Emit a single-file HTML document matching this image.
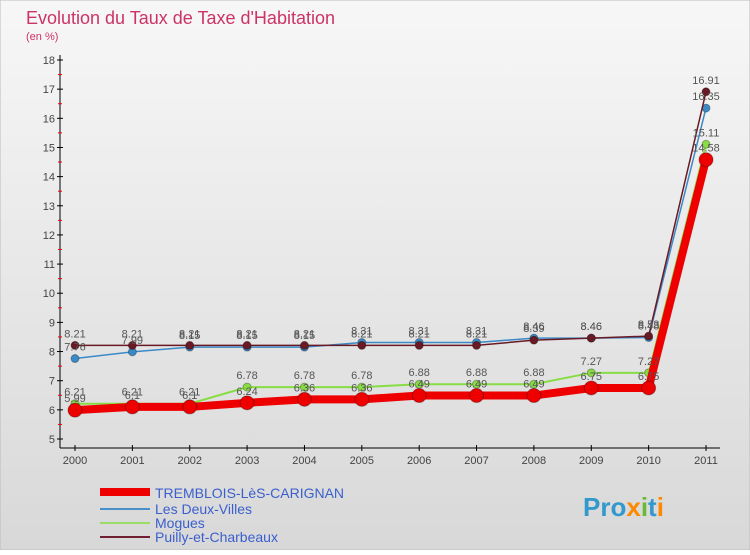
<!DOCTYPE html>
<html><head><meta charset="utf-8"><style>
body{margin:0;width:750px;height:550px;overflow:hidden;font-family:"Liberation Sans",sans-serif}
</style></head><body>
<svg width="750" height="550" xmlns="http://www.w3.org/2000/svg">
<defs><linearGradient id="bg" x1="0" y1="0" x2="0" y2="1"><stop offset="0" stop-color="#f7f7f7"/><stop offset="1" stop-color="#d8d8d8"/></linearGradient></defs>
<rect x="0" y="0" width="750" height="550" fill="url(#bg)" stroke="#bbb"/>
<text x="26" y="24" font-size="18" fill="#cc3366">Evolution du Taux de Taxe d'Habitation</text>
<text x="26" y="40" font-size="11" fill="#cc3366">(en %)</text>
<g id="axes"></g><g id="series"></g><g id="labels"></g>
<g>
<line x1="100" y1="492" x2="150" y2="492" stroke="#ee0000" stroke-width="8"/>
<text x="155" y="498" font-size="14" fill="#3a5fcd">TREMBLOIS-LèS-CARIGNAN</text>
<line x1="100" y1="509" x2="150" y2="509" stroke="#4a90c8" stroke-width="2"/>
<text x="155" y="514" font-size="14" fill="#3a5fcd">Les Deux-Villes</text>
<line x1="100" y1="523" x2="150" y2="523" stroke="#99dd66" stroke-width="2"/>
<text x="155" y="528" font-size="14" fill="#3a5fcd">Mogues</text>
<line x1="100" y1="537" x2="150" y2="537" stroke="#702030" stroke-width="2"/>
<text x="155" y="542" font-size="14" fill="#3a5fcd">Puilly-et-Charbeaux</text>
</g>
<text x="583" y="516" font-size="26" font-weight="bold" fill="#3399cc"><tspan fill="#3399cc">Pro</tspan><tspan fill="#ff8800">x</tspan><tspan fill="#66bb33">i</tspan><tspan fill="#3399cc">t</tspan><tspan fill="#ff8800">i</tspan></text>
</svg>
<script>
const years=["2000","2001","2002","2003","2004","2005","2006","2007","2008","2009","2010","2011"];
const yTicks=[5,6,7,8,9,10,11,12,13,14,15,16,17,18];
const tremblois=[5.99,6.1,6.1,6.24,6.36,6.36,6.49,6.49,6.49,6.75,6.75,14.58];
const deuxVilles=[7.76,7.99,8.15,8.15,8.15,8.31,8.31,8.31,8.46,8.46,8.48,16.35];
const mogues=[6.21,6.21,6.21,6.78,6.78,6.78,6.88,6.88,6.88,7.27,7.27,15.11];
const pouilly=[8.21,8.21,8.21,8.21,8.21,8.21,8.21,8.21,8.39,8.46,8.53,16.91];
const NS="http://www.w3.org/2000/svg";
const X=i=>75+i*(631/11), Y=v=>439-(v-5)*(379/13);
function mk(t,a,p){const e=document.createElementNS(NS,t);for(const k in a)e.setAttribute(k,a[k]);p.appendChild(e);return e;}
const ax=document.getElementById('axes'),se=document.getElementById('series'),lb=document.getElementById('labels');
let l=mk('line',{x1:60,y1:55,x2:60,y2:448,stroke:'#000'},ax);


l=mk('line',{x1:60,y1:448,x2:720,y2:448,stroke:'#000'},ax);


yTicks.forEach(v=>{
 mk('line',{x1:57,y1:Y(v),x2:63,y2:Y(v),stroke:'#000'},ax);
 if(v<18)mk('line',{x1:58,y1:Y(v+0.5),x2:62,y2:Y(v+0.5),stroke:'#e00'},ax);
 const t=mk('text',{x:55,y:Y(v)+4,'font-size':11,'text-anchor':'end',fill:'#444'},ax);t.textContent=v;
 
 
});
years.forEach((y,i)=>{
 mk('line',{x1:X(i),y1:445,x2:X(i),y2:451,stroke:'#000'},ax);
 const t=mk('text',{x:X(i),y:464,'font-size':11,'text-anchor':'middle',fill:'#444'},ax);t.textContent=y;
 
 
});
function draw(d,name,col,w,r){
 const p=mk('polyline',{points:d.map((v,i)=>X(i)+','+Y(v)).join(' '),fill:'none',stroke:col,'stroke-width':w},se);
 
 
 d.forEach((v,i)=>{
  const c=mk('circle',{cx:X(i),cy:Y(v),r:r,fill:col,stroke:'rgba(0,0,0,0.3)'},se);
  
  
  const t=mk('text',{x:X(i),y:Y(v)-8,'font-size':11,'text-anchor':'middle',fill:'#555'},lb);t.textContent=v;
  
  
 });
}
draw(mogues,'mogues','#88dd44',2,4);
draw(deuxVilles,'deux-villes','#3a8ac8',1.5,4);
draw(pouilly,'pouilly','#6a1a24',1.5,4);
draw(tremblois,'tremblois','#ee0000',8,7);
</script>
</body></html>
